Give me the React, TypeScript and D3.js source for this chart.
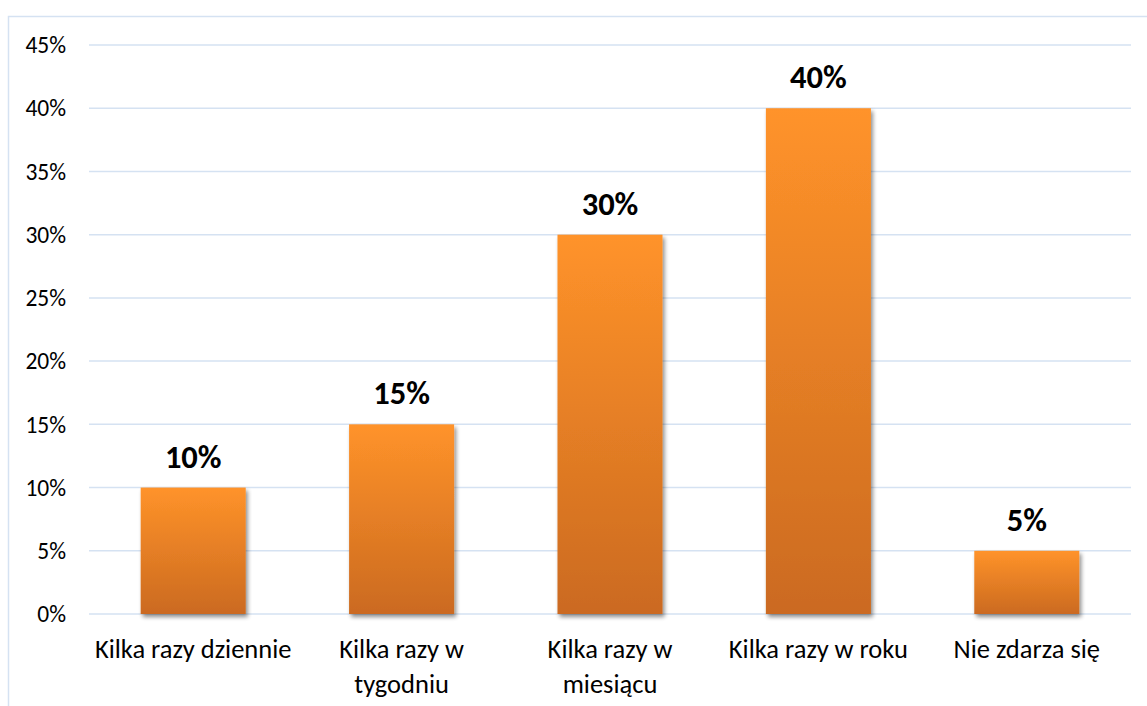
import React from "react";
import * as d3 from "d3";

const categories = [["Kilka razy dziennie"], ["Kilka razy w", "tygodniu"], ["Kilka razy w", "miesiącu"], ["Kilka razy w roku"], ["Nie zdarza się"]];
const values = [0.10, 0.15, 0.30, 0.40, 0.05];
const ticks = [0, 0.05, 0.10, 0.15, 0.20, 0.25, 0.30, 0.35, 0.40, 0.45];

export default function App() {
  const W = 1147, H = 706;
  const x0 = 89, x1 = 1131, yTop = 45, yBot = 614;
  const x = d3.scaleBand<number>().domain(d3.range(values.length)).range([x0, x1]).paddingInner(0.496).paddingOuter(0.248);
  const y = d3.scaleLinear().domain([0, 0.45]).range([yBot, yTop]);
  const fmt = d3.format(".0%");
  const font = "Carlito, 'Open Sans', 'Liberation Sans', sans-serif";
  return (
    <svg width={W} height={H} style={{ position: "absolute", left: 0, top: 0, background: "#fff" }}>
      <defs>
        <linearGradient id="bg" x1="0" y1="0" x2="0" y2="1">
          <stop offset="0" stopColor="#FF932A" />
          <stop offset="1" stopColor="#CB6A20" />
        </linearGradient>
        <filter id="sh" x="-10%" y="-10%" width="130%" height="130%">
          <feGaussianBlur in="SourceAlpha" stdDeviation="2" />
          <feOffset dx="2" dy="3" result="b" />
          <feComponentTransfer><feFuncA type="linear" slope="0.45" /></feComponentTransfer>
          <feMerge><feMergeNode /><feMergeNode in="SourceGraphic" /></feMerge>
        </filter>
      </defs>
      <rect x={8.5} y={16.5} width={W} height={H} fill="none" stroke="#D5E2F2" strokeWidth={1.5} />
      {ticks.map((t) => (
        <g key={t}>
          <line x1={x0} x2={x1} y1={y(t)} y2={y(t)} stroke="#D5E2F2" strokeWidth={1.5} />
          <text x={66} y={y(t)} dy="0.35em" textAnchor="end" fontFamily={font} fontSize={23.5} fill="#000">{fmt(t)}</text>
        </g>
      ))}
      {values.map((v, i) => (
        <g key={i}>
          <rect x={x(i)} y={y(v)} width={x.bandwidth()} height={yBot - y(v)} fill="url(#bg)" filter="url(#sh)" />
          <text x={x(i)! + x.bandwidth() / 2} y={y(v) - 20} textAnchor="middle" fontFamily={font} fontWeight="bold" fontSize={32.5} fill="#000">{fmt(v)}</text>
          {categories[i].map((l, j) => (
            <text key={j} x={x(i)! + x.bandwidth() / 2} y={658 + j * 35} textAnchor="middle" fontFamily={font} fontSize={26.5} fill="#000">{l}</text>
          ))}
        </g>
      ))}
    </svg>
  );
}
